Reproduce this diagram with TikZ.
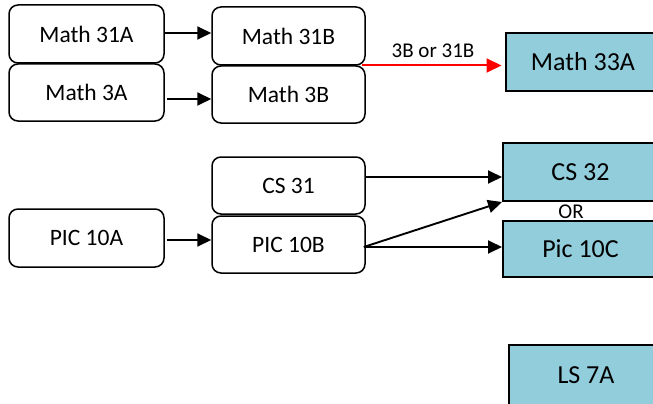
\documentclass[tikz,border=0pt]{standalone}
\usepackage{fontspec}
\setmainfont{Carlito}
\usetikzlibrary{arrows.meta,calc}
\definecolor{aqua}{RGB}{146,205,220}
\tikzset{
  course/.style={draw=black, line width=1.5pt, rounded corners=9pt, minimum width=153pt, minimum height=57pt, inner sep=0pt, font=\fontsize{23.5}{28}\selectfont},
  target/.style={draw=black, fill=aqua, line width=2pt, minimum width=155pt, minimum height=57pt, inner sep=0pt, font=\fontsize{26}{30}\selectfont},
  link/.style={line width=1.9pt, -{Triangle[length=14pt,width=13pt]}},
  redlink/.style={draw=red, line width=2pt, -{Triangle[length=15pt,width=14pt]}},
  lbl/.style={font=\fontsize{21}{25}\selectfont, inner sep=0pt}
}
\begin{document}
\begin{tikzpicture}[x=1pt,y=-1pt]
\clip (0,0) rectangle (653,404);
\fill[white] (0,0) rectangle (653,404);
% left column
\node[course, minimum width=155pt, minimum height=58pt] (m31a) at (86.5,34) {Math 31A};
\node[course, minimum width=155pt] (m3a) at (86.5,92.5) {Math 3A};
\node[course, minimum width=155pt, minimum height=58pt] (p10a) at (86.5,238) {PIC 10A};
% middle column
\node[course, minimum height=58pt] (m31b) at (288.5,36) {Math 31B};
\node[course] (m3b) at (288.5,94.5) {Math 3B};
\node[course] (cs31) at (288.5,185.5) {CS 31};
\node[course] (p10b) at (288.5,244.5) {PIC 10B};
% targets
\node[target, minimum height=58pt] (m33a) at (583,62) {Math 33A};
\node[target, minimum height=58pt] (cs32) at (580.5,172) {CS 32};
\node[target, minimum height=56pt] (p10c) at (580.5,249) {Pic 10C};
\node[target, minimum height=60pt] (ls7a) at (586,375) {LS 7A};
% arrows
\draw[link] ($(m31a.east)+(0,-1)$) -- ($(m31a.east -| m31b.west)+(0,-1)$);
\draw[link] ($(m3a.east)+(2,6.5)$) -- ($(m3a.east -| m3b.west)+(0,6.5)$);
\draw[link] ($(p10a.east)+(2,2)$) -- ($(p10a.east -| p10b.west)+(0,2)$);
\coordinate (rs) at ($(m31b.south east)!0.5!(m3b.north east)+(-4,0)$);
\draw[redlink, shorten >=3pt] (rs) -- (rs -| m33a.west);
\node[lbl] (l3b) at (433,51) {3B or 31B};
\draw[link] ($(cs31.east)+(0,-8.5)$) -- ($(cs31.east -| cs32.west)+(0,-8.5)$);
\coordinate (ps) at ($(p10b.east)+(-2,2.5)$);
\draw[link] (ps) -- (ps -| p10c.west);
\draw[link] (ps) -- (cs32.south west);
\node[lbl] (lor) at (571,212) {OR};
\end{tikzpicture}
\end{document}
